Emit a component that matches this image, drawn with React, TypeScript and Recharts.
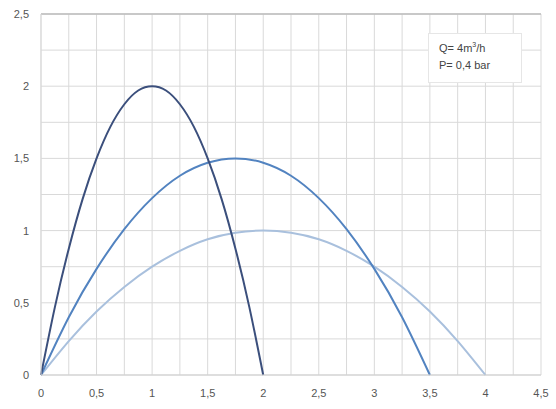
import { CartesianGrid, LineChart, Line, ReferenceLine, XAxis, YAxis } from "recharts";

// curve 1: vertex (1, 2), lands at x=2
const xs1 = [0, 0.125, 0.25, 0.375, 0.5, 0.625, 0.75, 0.875, 1, 1.125, 1.25, 1.375, 1.5, 1.625, 1.75, 1.875, 2];
const ys1 = [0, 0.47, 0.875, 1.22, 1.5, 1.72, 1.875, 1.97, 2, 1.97, 1.875, 1.72, 1.5, 1.22, 0.875, 0.47, 0];

// curve 2: vertex (1.75, 1.5), lands at x=3.5
const xs2 = [0, 0.25, 0.5, 0.75, 1, 1.25, 1.5, 1.75, 2, 2.25, 2.5, 2.75, 3, 3.25, 3.5];
const ys2 = [0, 0.4, 0.735, 1.01, 1.225, 1.38, 1.47, 1.5, 1.47, 1.38, 1.225, 1.01, 0.735, 0.4, 0];

// curve 3: vertex (2, 1), lands at x=4
const xs3 = [0, 0.25, 0.5, 0.75, 1, 1.25, 1.5, 1.75, 2, 2.25, 2.5, 2.75, 3, 3.25, 3.5, 3.75, 4];
const ys3 = [0, 0.235, 0.44, 0.61, 0.75, 0.86, 0.94, 0.985, 1, 0.985, 0.94, 0.86, 0.75, 0.61, 0.44, 0.235, 0];

const xTicks = [0, 0.5, 1, 1.5, 2, 2.5, 3, 3.5, 4, 4.5];
const yTicks = [0, 0.5, 1, 1.5, 2, 2.5];
const minorX = [0.25, 0.75, 1.25, 1.75, 2.25, 2.75, 3.25, 3.75, 4.25];
const minorY = [0.25, 0.75, 1.25, 1.75, 2.25];

const toPoints = (xs: number[], ys: number[]) => xs.map((x, i) => ({ x, y: ys[i] }));

const fmt = (v: number) => String(v).replace(".", ",");

const tickStyle = { fill: "#555", fontSize: 11, fontFamily: "Liberation Sans, Arial, sans-serif" };

export default function App() {
  return (
    <div style={{ position: "absolute", left: 0, top: 0, width: 556, height: 409, background: "#fff" }}>
      <LineChart width={556} height={409} margin={{ top: 14, right: 15, bottom: 0, left: 0 }}>
        <CartesianGrid stroke="#d9d9d9" />
        {minorX.map((v) => (
          <ReferenceLine key={"mx" + v} x={v} stroke="#d9d9d9" ifOverflow="visible" />
        ))}
        {minorY.map((v) => (
          <ReferenceLine key={"my" + v} y={v} stroke="#d9d9d9" ifOverflow="visible" />
        ))}
        <ReferenceLine y={2.5} stroke="#bdbdbd" strokeWidth={1.5} />
        <XAxis
          type="number"
          dataKey="x"
          domain={[0, 4.5]}
          ticks={xTicks}
          tickFormatter={fmt}
          tick={tickStyle}
          tickLine={false}
          axisLine={{ stroke: "#d0d0d0" }}
          height={34}
          tickMargin={8}
        />
        <YAxis
          type="number"
          dataKey="y"
          domain={[0, 2.5]}
          ticks={yTicks}
          tickFormatter={fmt}
          tick={tickStyle}
          tickLine={false}
          axisLine={{ stroke: "#d9d9d9" }}
          width={41}
          tickMargin={6}
        />
        <Line data={toPoints(xs3, ys3)} dataKey="y" type="natural" stroke="#a9c0dd" strokeWidth={2} dot={false} isAnimationActive={false} />
        <Line data={toPoints(xs2, ys2)} dataKey="y" type="natural" stroke="#5283c0" strokeWidth={2} dot={false} isAnimationActive={false} />
        <Line data={toPoints(xs1, ys1)} dataKey="y" type="natural" stroke="#3b4f7c" strokeWidth={2} dot={false} isAnimationActive={false} />
      </LineChart>
      <div
        style={{
          position: "absolute",
          left: 428,
          top: 33,
          width: 94,
          height: 50,
          background: "#fff",
          border: "1px solid #e6e6e6",
          boxSizing: "border-box",
          fontFamily: "Liberation Sans, Arial, sans-serif",
          fontSize: 11,
          color: "#444",
          padding: "6px 0 0 10px",
          lineHeight: "17px",
        }}
      >
        <div>
          Q= 4m<sup style={{ fontSize: 7, lineHeight: 0 }}>3</sup>/h
        </div>
        <div>P= 0,4 bar</div>
      </div>
    </div>
  );
}
